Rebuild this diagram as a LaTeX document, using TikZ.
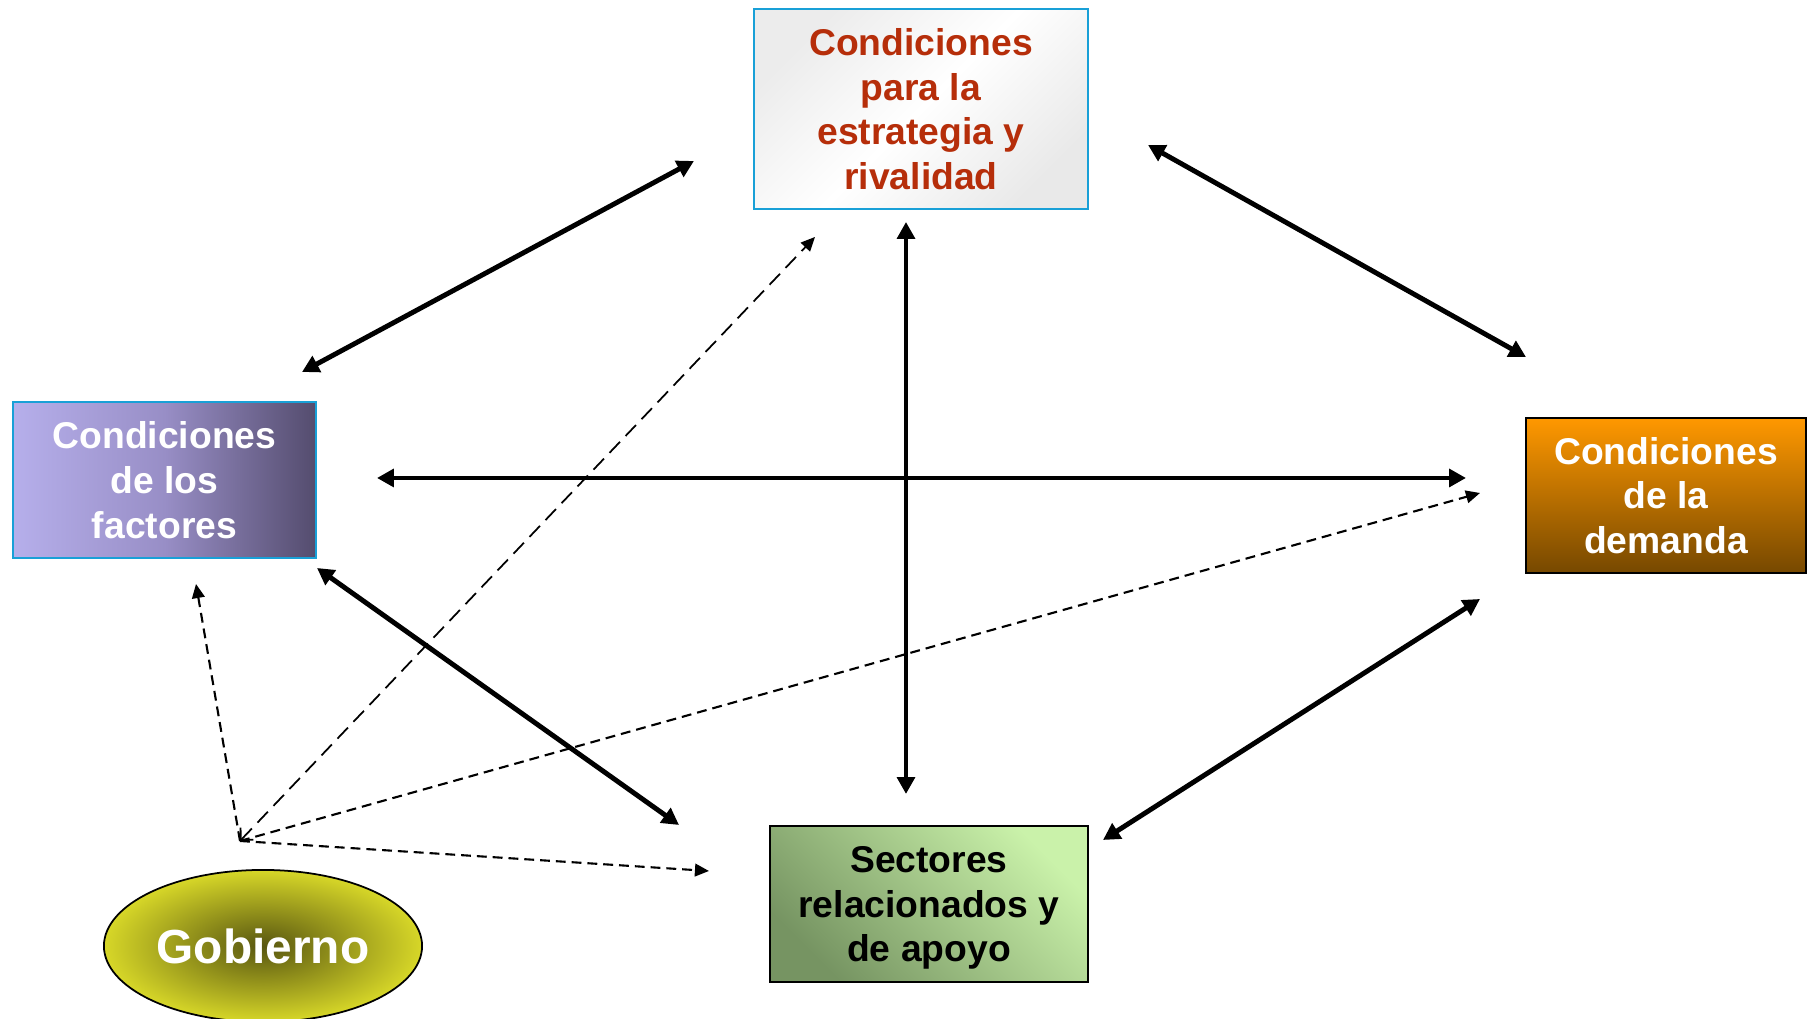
\documentclass[tikz,border=0pt]{standalone}
\usepackage{fontspec}
\setmainfont{Liberation Sans}
\usetikzlibrary{arrows.meta,shapes.geometric}

\definecolor{bordeazul}{RGB}{25,160,215}
\definecolor{rojizo}{RGB}{182,46,10}
\definecolor{lila}{RGB}{182,175,235}
\definecolor{lilamedio}{RGB}{152,142,198}
\definecolor{pizarra}{RGB}{84,76,110}
\definecolor{naranja}{RGB}{255,152,0}
\definecolor{cafe}{RGB}{118,72,0}
\definecolor{verdeclaro}{RGB}{202,242,170}
\definecolor{verdeoscuro}{RGB}{118,148,98}
\definecolor{amarillo}{RGB}{215,215,40}
\definecolor{olivo}{RGB}{88,86,16}

\begin{document}
\begin{tikzpicture}[x=0.01cm, y=0.01cm,
        caja/.style={rectangle, inner sep=0pt, align=center, text depth=0pt,
            font=\fontsize{10.6}{12.7}\selectfont\bfseries},
        flecha/.style={<->, line width=1.4pt},
        punteada/.style={->, line width=0.6pt, dash pattern=on 2.8pt off 1.7pt,
            >={Triangle[length=4pt,width=3.6pt]}},
        >={Triangle[length=4.8pt,width=5pt]}]
            \useasboundingbox (0, 0) rectangle (1808, 1019);
            %\draw[lightgray, step=100] (0, 0) grid (1808, 1019);
            \node[caja, minimum width=3.33cm, minimum height=2cm, draw=bordeazul, line width=0.6pt,
                top color=gray!15, bottom color=gray!17, middle color=white, shading angle=45,
                text=rojizo] (est) at (921, 910) {Condiciones\\para la\\estrategia y\\rivalidad};
            \node[caja, minimum width=3.03cm, minimum height=1.56cm, draw=bordeazul, line width=0.6pt,
                left color=lila, right color=pizarra, middle color=lilamedio,
                text=white] (fac) at (164.5, 539) {Condiciones\\de los\\factores};
            \node[caja, minimum width=2.8cm, minimum height=1.55cm, draw=black, line width=0.7pt,
                top color=naranja, bottom color=cafe,
                text=white] (dem) at (1666, 523.5) {Condiciones\\de la\\demanda};
            \node[caja, minimum width=3.18cm, minimum height=1.56cm, draw=black, line width=0.7pt,
                top color=verdeclaro, bottom color=verdeoscuro, shading angle=-45,
                text=black] (sec) at (929, 115) {Sectores\\relacionados y\\de apoyo};
            \node[ellipse, inner sep=0pt, minimum width=3.18cm, minimum height=1.52cm, draw=black,
                line width=0.5pt, inner color=olivo, outer color=amarillo, text=white,
                font=\fontsize{13.6}{16}\selectfont\bfseries] (gob) at (263, 73) {Gobierno};
            \coordinate (fe) at (302, 647);
            \coordinate (ef) at (694, 858);
            \coordinate (ed) at (1148, 874);
            \coordinate (de) at (1526, 662);
            \coordinate (fd) at (377, 541);
            \coordinate (df) at (1466, 541);
            \coordinate (es) at (906, 797);
            \coordinate (se) at (906, 225);
            \coordinate (fs) at (317, 451);
            \coordinate (sf) at (679, 194);
            \coordinate (sd) at (1103, 179);
            \coordinate (ds) at (1480, 420);
            \coordinate (g) at (240, 178);
            \coordinate (gf) at (196, 435);
            \coordinate (ge) at (815, 782);
            \coordinate (gd) at (1480, 526);
            \coordinate (gs) at (709, 148);
            \draw[flecha] (fe) -- (ef);
            \draw[flecha] (ed) -- (de);
            \draw[flecha] (fd) -- (df);
            \draw[flecha] (es) -- (se);
            \draw[flecha] (fs) -- (sf);
            \draw[flecha] (sd) -- (ds);
            \draw[punteada] (g) -- (gf);
            \draw[punteada, line width=0.5pt, dash pattern=on 4.3pt off 2.3pt,
                {Straight Barb[length=2.5pt,width=5pt]}->] (g) -- (ge);
            \draw[punteada] (g) -- (gd);
            \draw[punteada] (g) -- (gs);
        \end{tikzpicture}
\end{document}
